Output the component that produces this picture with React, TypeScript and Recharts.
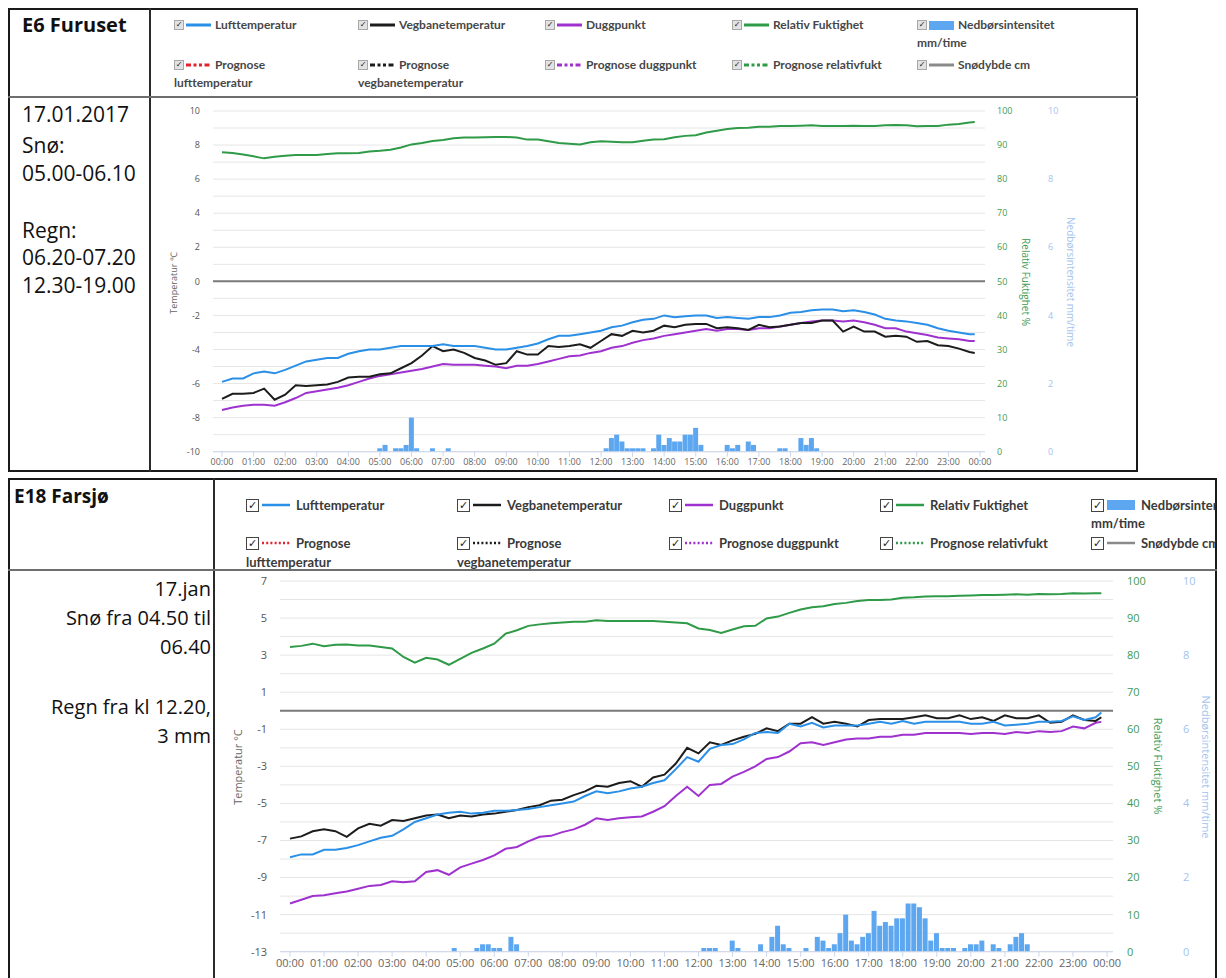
import React from "react";
import {
  ComposedChart,
  Line,
  Bar,
  XAxis,
  YAxis,
  CartesianGrid,
  ReferenceLine,
} from "recharts";

const AIR = "#2a8fe6";
const ROAD = "#1c1c1c";
const DEW = "#9f32cf";
const RH = "#2f9a47";
const RAIN = "#5da6f0";
const SNOW = "#8a8a8a";
const FC_AIR = "#e3202d";

// tidspunkt for linjeseriene: hvert 20. minutt 00:00-23:40, siste måling 23:50
const LINE_MIN = [...Array.from({ length: 72 }, (_, i) => i * 20), 1430];
const HOUR_TICKS = Array.from({ length: 25 }, (_, i) => i * 60);

// E6 Furuset
const E6_AIR = [
  -5.9, -5.7, -5.7, -5.4, -5.3, -5.4,
  -5.2, -4.95, -4.7, -4.6, -4.5, -4.5,
  -4.25, -4.1, -4.0, -4.0, -3.9, -3.8,
  -3.8, -3.8, -3.8, -3.7, -3.8, -3.8,
  -3.8, -3.9, -4.0, -4.0, -3.9, -3.8,
  -3.65, -3.4, -3.2, -3.2, -3.1, -3.0,
  -2.9, -2.7, -2.6, -2.4, -2.25, -2.2,
  -2.0, -2.1, -2.05, -2.0, -2.0, -2.15,
  -2.1, -2.15, -2.2, -2.1, -2.1, -2.0,
  -1.85, -1.8, -1.7, -1.65, -1.65, -1.75,
  -1.7, -1.8, -1.95, -2.2, -2.3, -2.35,
  -2.45, -2.55, -2.75, -2.9, -3.0, -3.1,
  -3.1,
];
const E6_ROAD = [
  -6.9, -6.6, -6.6, -6.55, -6.3, -6.95,
  -6.65, -6.1, -6.15, -6.1, -6.05, -5.9,
  -5.65, -5.6, -5.6, -5.45, -5.4, -5.1,
  -4.8, -4.35, -3.8, -4.1, -4.0, -4.2,
  -4.5, -4.65, -4.9, -4.8, -4.1, -4.3,
  -4.3, -3.8, -3.85, -3.8, -3.7, -3.9,
  -3.5, -3.1, -3.2, -2.9, -3.0, -2.9,
  -2.6, -2.7, -2.55, -2.5, -2.5, -2.75,
  -2.7, -2.75, -2.85, -2.55, -2.7, -2.65,
  -2.55, -2.45, -2.45, -2.3, -2.3, -2.95,
  -2.65, -2.95, -2.95, -3.25, -3.2, -3.25,
  -3.55, -3.5, -3.75, -3.8, -3.95, -4.15,
  -4.2,
];
const E6_DEW = [
  -7.55, -7.4, -7.3, -7.25, -7.25, -7.3,
  -7.1, -6.85, -6.55, -6.45, -6.35, -6.25,
  -6.1, -5.9, -5.7, -5.55, -5.45, -5.35,
  -5.25, -5.15, -5.0, -4.85, -4.9, -4.9,
  -4.9, -4.95, -5.0, -5.1, -4.95, -4.95,
  -4.85, -4.7, -4.55, -4.4, -4.35, -4.2,
  -4.1, -3.9, -3.8, -3.6, -3.45, -3.35,
  -3.2, -3.1, -3.0, -2.9, -2.8, -2.9,
  -2.8, -2.8, -2.85, -2.75, -2.75, -2.65,
  -2.55, -2.45, -2.35, -2.3, -2.3, -2.35,
  -2.3, -2.4, -2.55, -2.75, -2.75, -2.95,
  -3.05, -3.15, -3.3, -3.35, -3.4, -3.5,
  -3.5,
];
const E6_RH = [
  87.9, 87.7, 87.2, 86.7, 86.1, 86.6,
  86.9, 87.1, 87.1, 87.1, 87.4, 87.6,
  87.6, 87.7, 88.1, 88.3, 88.6, 89.3,
  90.2, 90.6, 91.2, 91.5, 92.0, 92.2,
  92.2, 92.3, 92.4, 92.4, 92.2, 91.6,
  91.6, 91.1, 90.6, 90.4, 90.2, 90.8,
  91.1, 91.0, 90.8, 90.8, 91.3, 91.6,
  91.7, 92.3, 92.7, 92.9, 93.7, 94.2,
  94.7, 95.0, 95.1, 95.4, 95.4, 95.6,
  95.6, 95.7, 95.8, 95.6, 95.6, 95.6,
  95.7, 95.6, 95.6, 95.8, 95.9, 95.8,
  95.5, 95.6, 95.6, 96.0, 96.2, 96.6,
  96.8,
];
const E6_RAIN: [string, number][] = [
  ["05:00", 0.1], ["05:10", 0.2], ["05:30", 0.1], ["05:40", 0.1], ["05:50", 0.2],
  ["06:00", 1.0], ["06:10", 0.1], ["06:40", 0.1], ["07:10", 0.1],
  ["12:10", 0.1], ["12:20", 0.4], ["12:30", 0.5], ["12:40", 0.3], ["12:50", 0.1],
  ["13:00", 0.1], ["13:10", 0.1], ["13:20", 0.1], ["13:40", 0.1], ["13:50", 0.5],
  ["14:00", 0.2], ["14:10", 0.4], ["14:20", 0.3], ["14:30", 0.3], ["14:40", 0.5],
  ["14:50", 0.5], ["15:00", 0.7], ["15:10", 0.2], ["16:00", 0.2], ["16:10", 0.1],
  ["16:20", 0.2], ["16:40", 0.3], ["16:50", 0.2], ["17:40", 0.1], ["17:50", 0.1],
  ["18:20", 0.4], ["18:30", 0.2], ["18:40", 0.4], ["18:50", 0.1],
];

// E18 Farsjø
const E18_AIR = [
  -7.9, -7.75, -7.75, -7.5, -7.5, -7.4,
  -7.25, -7.05, -6.85, -6.75, -6.4, -6.0,
  -5.8, -5.6, -5.5, -5.45, -5.55, -5.5,
  -5.4, -5.4, -5.35, -5.3, -5.2, -5.1,
  -5.0, -4.9, -4.6, -4.35, -4.45, -4.35,
  -4.2, -4.1, -3.9, -3.75, -3.15, -2.5,
  -2.75, -2.05, -1.85, -1.8, -1.55, -1.2,
  -1.15, -1.2, -0.7, -0.85, -0.65, -0.9,
  -0.8, -0.8, -0.8, -0.7, -0.6, -0.7,
  -0.55, -0.7, -0.6, -0.6, -0.6, -0.6,
  -0.7, -0.7, -0.6, -0.8, -0.75, -0.7,
  -0.6, -0.6, -0.55, -0.3, -0.5, -0.35,
  -0.1,
];
const E18_ROAD = [
  -6.9, -6.78, -6.5, -6.4, -6.5, -6.8,
  -6.35, -6.1, -6.2, -5.9, -5.95, -5.8,
  -5.65, -5.6, -5.8, -5.65, -5.7, -5.6,
  -5.55, -5.45, -5.35, -5.2, -5.1, -4.85,
  -4.8, -4.55, -4.35, -4.05, -4.1, -3.9,
  -3.8, -4.1, -3.6, -3.45, -2.85, -2.0,
  -2.3, -1.7, -1.85, -1.6, -1.4, -1.25,
  -0.95, -1.1, -0.7, -0.7, -0.35, -0.7,
  -0.6, -0.7, -0.85, -0.5, -0.45, -0.45,
  -0.45, -0.35, -0.25, -0.4, -0.4, -0.25,
  -0.45, -0.35, -0.55, -0.25, -0.4, -0.4,
  -0.25, -0.65, -0.6, -0.25, -0.5, -0.55,
  -0.35,
];
const E18_DEW = [
  -10.4, -10.2, -10.0, -9.95, -9.85, -9.75,
  -9.6, -9.45, -9.4, -9.2, -9.25, -9.2,
  -8.7, -8.6, -8.85, -8.45, -8.25, -8.05,
  -7.8, -7.45, -7.35, -7.05, -6.8, -6.75,
  -6.55, -6.4, -6.15, -5.8, -5.9, -5.8,
  -5.75, -5.7, -5.45, -5.15, -4.6, -4.1,
  -4.6, -4.0, -3.95, -3.55, -3.3, -3.0,
  -2.6, -2.5, -2.2, -1.75, -1.7, -1.85,
  -1.7, -1.55, -1.5, -1.5, -1.4, -1.4,
  -1.3, -1.3, -1.2, -1.2, -1.2, -1.2,
  -1.25, -1.2, -1.2, -1.25, -1.15, -1.2,
  -1.1, -1.15, -1.1, -0.85, -0.95, -0.65,
  -0.6,
];
const E18_RH = [
  82.2, 82.5, 83.1, 82.4, 82.8, 82.9,
  82.6, 82.6, 82.2, 81.8, 79.5, 78.0,
  79.3, 78.8, 77.4, 79.0, 80.6, 81.8,
  83.1, 85.8, 86.7, 87.9, 88.3, 88.6,
  88.8, 89.0, 89.0, 89.4, 89.2, 89.2,
  89.2, 89.2, 89.2, 89.0, 88.8, 88.6,
  87.2, 86.8, 86.0, 86.9, 87.8, 87.9,
  89.9, 90.4, 91.4, 92.3, 92.9, 93.2,
  93.8, 94.1, 94.6, 94.9, 94.9, 95.0,
  95.5, 95.6, 95.8, 95.9, 95.9, 96.0,
  96.1, 96.2, 96.2, 96.3, 96.4, 96.3,
  96.5, 96.4, 96.5, 96.7, 96.6, 96.7,
  96.7,
];
const E18_RAIN: [string, number][] = [
  ["04:50", 0.1], ["05:30", 0.1], ["05:40", 0.2], ["05:50", 0.2], ["06:00", 0.1],
  ["06:10", 0.1], ["06:30", 0.4], ["06:40", 0.2],
  ["12:10", 0.1], ["12:20", 0.1], ["12:30", 0.1], ["13:00", 0.3], ["13:10", 0.1],
  ["13:50", 0.2], ["14:10", 0.4], ["14:20", 0.7], ["14:30", 0.2], ["14:40", 0.1],
  ["15:10", 0.1], ["15:30", 0.4], ["15:40", 0.3], ["15:50", 0.1], ["16:00", 0.2],
  ["16:10", 0.5], ["16:20", 1.0], ["16:30", 0.3], ["16:40", 0.2], ["16:50", 0.4],
  ["17:00", 0.5], ["17:10", 1.1], ["17:20", 0.7], ["17:30", 0.8], ["17:40", 0.7],
  ["17:50", 0.9], ["18:00", 0.9], ["18:10", 1.3], ["18:20", 1.3], ["18:30", 1.2],
  ["18:40", 0.9], ["18:50", 0.3], ["19:00", 0.5], ["19:10", 0.1], ["19:20", 0.1],
  ["19:30", 0.1], ["19:50", 0.1], ["20:00", 0.2], ["20:10", 0.2], ["20:20", 0.3],
  ["20:40", 0.2], ["20:50", 0.1], ["21:10", 0.2], ["21:20", 0.4], ["21:30", 0.5],
  ["21:40", 0.2],
];

const E6_TEMP_TICKS = Array.from({ length: 21 }, (_, i) => i - 10);
const E18_TEMP_TICKS = Array.from({ length: 21 }, (_, i) => i - 13);
const RH_TICKS = [0, 10, 20, 30, 40, 50, 60, 70, 80, 90, 100];
const RAIN_TICKS = [0, 2, 4, 6, 8, 10];

const LEGEND_ROW1 = [
  { label: "Lufttemperatur", color: AIR, kind: "line" },
  { label: "Vegbanetemperatur", color: ROAD, kind: "line" },
  { label: "Duggpunkt", color: DEW, kind: "line" },
  { label: "Relativ Fuktighet", color: RH, kind: "line" },
  { label: "Nedbørsintensitet", more: "mm/time", color: RAIN, kind: "bar" },
];
const LEGEND_ROW2 = [
  { label: "Prognose", more: "lufttemperatur", color: FC_AIR, kind: "dash" },
  { label: "Prognose", more: "vegbanetemperatur", color: ROAD, kind: "dash" },
  { label: "Prognose duggpunkt", color: DEW, kind: "dash" },
  { label: "Prognose relativfukt", color: RH, kind: "dash" },
  { label: "Snødybde cm", color: SNOW, kind: "line" },
];

function buildRows(air: number[], road: number[], dew: number[], rh: number[], rain: [string, number][]) {
  const rows: any[] = [];
  for (let t = 0; t <= 1440; t += 10) rows.push({ t });
  LINE_MIN.forEach((t, i) => {
    Object.assign(rows[t / 10], { air: air[i], road: road[i], dew: dew[i], rh: rh[i] });
  });
  rain.forEach(([hm, v]) => {
    const [h, m] = hm.split(":").map(Number);
    rows[(h * 60 + m) / 10].rain = v;
  });
  return rows;
}

const E6_ROWS = buildRows(E6_AIR, E6_ROAD, E6_DEW, E6_RH, E6_RAIN);
const E18_ROWS = buildRows(E18_AIR, E18_ROAD, E18_DEW, E18_RH, E18_RAIN);

const hourLabel = (m: number) => `${String(Math.floor(m / 60) % 24).padStart(2, "0")}:00`;

function VText({ x, y, text, color, size, angle }: any) {
  return (
    <div
      style={{
        position: "absolute",
        left: x,
        top: y,
        transform: `translate(-50%, -50%) rotate(${angle}deg)`,
        whiteSpace: "nowrap",
        color,
        fontSize: size,
        fontFamily: "Open Sans",
        lineHeight: 1,
      }}
    >
      {text}
    </div>
  );
}

function WeatherChart(p: any) {
  const font = { fontFamily: "Open Sans", fontSize: p.fs };
  return (
    <div style={{ position: "absolute", left: p.left, top: p.top }}>
      <ComposedChart width={p.width} height={p.height} data={p.rows} margin={p.margin}>
        <CartesianGrid yAxisId="a_temp" vertical={false} stroke="#e6e6e6" />
        <XAxis
          dataKey="t"
          type="number"
          domain={[0, 1440]}
          ticks={HOUR_TICKS}
          interval={0}
          tickFormatter={hourLabel}
          padding={{ left: p.padL, right: p.padR }}
          height={p.xh}
          tickSize={5}
          tickMargin={2}
          stroke="#ccd6eb"
          tick={{ ...font, fill: "#666" }}
        />
        <YAxis
          yAxisId="a_temp"
          domain={p.tempDomain}
          ticks={p.tempTicks}
          interval={0}
          tickFormatter={(v: number) => ((v - p.tempDomain[0]) % 2 === 0 ? String(v) : "")}
          width={p.yw}
          axisLine={false}
          tickLine={false}
          tickSize={0}
          tickMargin={13}
          tick={{ ...font, fill: "#555" }}
        />
        <YAxis
          yAxisId="b_rh"
          orientation="right"
          domain={[0, 100]}
          ticks={RH_TICKS}
          interval={0}
          width={p.rhw}
          axisLine={false}
          tickLine={false}
          tickSize={0}
          tickMargin={p.rhm}
          tick={{ ...font, fill: "#3f9a52" }}
        />
        <YAxis
          yAxisId="c_rain"
          orientation="right"
          domain={[0, 10]}
          ticks={RAIN_TICKS}
          interval={0}
          width={p.rw}
          axisLine={false}
          tickLine={false}
          tickSize={0}
          tickMargin={12}
          tick={{ ...font, fill: "#a3c4ee" }}
        />
        <Bar yAxisId="c_rain" dataKey="rain" fill={RAIN} barSize={5} isAnimationActive={false} />
        <ReferenceLine yAxisId="a_temp" y={0} stroke="#7a7a7a" strokeWidth={2} />
        <Line yAxisId="b_rh" dataKey="rh" stroke={RH} strokeWidth={2} dot={false} connectNulls isAnimationActive={false} />
        <Line yAxisId="a_temp" dataKey="dew" stroke={DEW} strokeWidth={2} dot={false} connectNulls isAnimationActive={false} />
        <Line yAxisId="a_temp" dataKey="road" stroke={ROAD} strokeWidth={2} dot={false} connectNulls isAnimationActive={false} />
        <Line yAxisId="a_temp" dataKey="air" stroke={AIR} strokeWidth={2} dot={false} connectNulls isAnimationActive={false} />
      </ComposedChart>
    </div>
  );
}

function CheckBox({ x, y, big }: any) {
  const s = big ? 13 : 10;
  return (
    <div
      style={{
        position: "absolute",
        left: x,
        top: y - s / 2,
        width: s,
        height: s,
        boxSizing: "border-box",
        border: big ? "1px solid #444" : "1px solid #a8a8a8",
        background: big ? "#fff" : "#e2e2e2",
        fontFamily: "DejaVu Sans",
        fontSize: big ? 11 : 8,
        lineHeight: `${s - 2}px`,
        textAlign: "center",
        color: "#222",
      }}
    >
      ✓
    </div>
  );
}

function Swatch({ x, y, w, color, kind, big }: any) {
  if (kind === "bar") {
    const h = big ? 10 : 9;
    return <div style={{ position: "absolute", left: x, top: y - h / 2, width: w, height: h, background: color }} />;
  }
  const dash = kind === "dash" ? (big ? "2 2.2" : "5 2.5 3 2.5 3 2.5 5") : undefined;
  return (
    <svg style={{ position: "absolute", left: x, top: y - 3 }} width={w} height={6}>
      <line x1={0} y1={3} x2={w} y2={3} stroke={color} strokeWidth={big ? 2.5 : 3} strokeDasharray={dash} />
    </svg>
  );
}

function LegendRow({ items, cols, y, y2, big, textOff, swOff, swW, fs, color }: any) {
  const txt = (x: number, yy: number, s: string, key: string) => (
    <div
      key={key}
      style={{
        position: "absolute",
        left: x,
        top: yy - 9,
        lineHeight: "18px",
        fontFamily: "Lato",
        fontWeight: 700,
        fontSize: fs,
        color,
        whiteSpace: "nowrap",
      }}
    >
      {s}
    </div>
  );
  return (
    <>
      {items.map((it: any, i: number) => (
        <React.Fragment key={i}>
          <CheckBox x={cols[i]} y={y} big={big} />
          <Swatch x={cols[i] + swOff} y={y} w={swW} color={it.color} kind={it.kind} big={big} />
          {txt(cols[i] + textOff, y, it.label, "a")}
          {it.more ? txt(cols[i], y2, it.more, "b") : null}
        </React.Fragment>
      ))}
    </>
  );
}

function Rule({ x, y, w, h, c }: any) {
  return <div style={{ position: "absolute", left: x, top: y, width: w, height: h, background: c }} />;
}

export default function App() {
  const topNotes: [string, number][] = [
    ["17.01.2017", 114],
    ["Snø:", 145],
    ["05.00-06.10", 173],
    ["Regn:", 230],
    ["06.20-07.20", 257],
    ["12.30-19.00", 285],
  ];
  const botNotes: [string, number][] = [
    ["17.jan", 589],
    ["Snø fra 04.50 til", 618],
    ["06.40", 647],
    ["Regn fra kl 12.20,", 707],
    ["3 mm", 736],
  ];
  return (
    <div
      style={{
        position: "fixed",
        left: 0,
        top: 0,
        width: 1226,
        height: 978,
        overflow: "hidden",
        background: "#fff",
        fontFamily: "Open Sans",
      }}
    >
      {/* E6 Furuset */}
      <div style={{ position: "absolute", left: 8, top: 8, width: 1130, height: 464, boxSizing: "border-box", border: "2px solid #1a1a1a" }} />
      <Rule x={149} y={8} w={2} h={464} c="#2a2a2a" />
      <Rule x={8} y={96} w={1130} h={2} c="#6e6e6e" />
      <div style={{ position: "absolute", left: 22, top: 10, fontSize: 20, fontWeight: 700, lineHeight: "30px", color: "#111" }}>
        E6 Furuset
      </div>
      {topNotes.map(([s, y]) => (
        <div key={s} style={{ position: "absolute", left: 22, top: y - 14, fontSize: 21, lineHeight: "28px", color: "#111" }}>
          {s}
        </div>
      ))}
      <LegendRow items={LEGEND_ROW1} cols={[174, 358, 545, 732, 917]} y={25} y2={43} big={false} textOff={41} swOff={12} swW={25} fs={12} color="#474747" />
      <LegendRow items={LEGEND_ROW2} cols={[174, 358, 545, 732, 917]} y={65} y2={83} big={false} textOff={41} swOff={12} swW={25} fs={12} color="#474747" />
      <WeatherChart
        rows={E6_ROWS}
        left={150}
        top={97}
        width={988}
        height={375}
        margin={{ top: 14, right: 0, bottom: 4.3, left: 0 }}
        xh={16}
        padL={9}
        padR={5}
        fs={9}
        tempDomain={[-10, 10]}
        tempTicks={E6_TEMP_TICKS}
        yw={63}
        rhw={51}
        rhm={12}
        rw={102}
      />
      <VText x={173} y={283} text="Temperatur ℃" color="#666" size={9} angle={-90} />
      <VText x={1026} y={282} text="Relativ Fuktighet %" color="#3f9a52" size={10} angle={90} />
      <VText x={1071} y={282} text="Nedbørsintensitet mm/time" color="#a3c4ee" size={10} angle={90} />

      {/* E18 Farsjø */}
      <div style={{ position: "absolute", left: 8, top: 478, width: 1209, height: 520, boxSizing: "border-box", border: "2px solid #1a1a1a" }} />
      <Rule x={213} y={478} w={2} h={520} c="#2a2a2a" />
      <Rule x={8} y={569} w={1209} h={2} c="#6e6e6e" />
      <div style={{ position: "absolute", left: 14, top: 481, fontSize: 19, fontWeight: 700, lineHeight: "30px", color: "#111" }}>
        E18 Farsjø
      </div>
      {botNotes.map(([s, y]) => (
        <div key={s} style={{ position: "absolute", right: 1226 - 211, top: y - 15, fontSize: 20, lineHeight: "30px", color: "#111", whiteSpace: "nowrap", textAlign: "right" }}>
          {s}
        </div>
      ))}
      <div style={{ position: "absolute", left: 0, top: 0, width: 1216, height: 978, overflow: "hidden" }}>
        <LegendRow items={LEGEND_ROW1} cols={[246, 457, 669, 880, 1091]} y={505} y2={523} big textOff={50} swOff={16} swW={28} fs={13} color="#3a3a3a" />
        <LegendRow items={LEGEND_ROW2} cols={[246, 457, 669, 880, 1091]} y={543} y2={562} big textOff={50} swOff={16} swW={28} fs={13} color="#3a3a3a" />
      </div>
      <WeatherChart
        rows={E18_ROWS}
        left={214}
        top={570}
        width={1003}
        height={408}
        margin={{ top: 11, right: 0, bottom: 6.3, left: 0 }}
        xh={20}
        padL={10}
        padR={6}
        fs={11}
        tempDomain={[-13, 7]}
        tempTicks={E18_TEMP_TICKS}
        yw={66}
        rhw={58}
        rhm={14}
        rw={46}
      />
      <VText x={237} y={767} text="Temperatur °C" color="#666" size={11} angle={-90} />
      <VText x={1158} y={766} text="Relativ Fuktighet %" color="#3f9a52" size={11} angle={90} />
      <VText x={1206} y={767} text="Nedbørsintensitet mm/time" color="#a3c4ee" size={11} angle={90} />
    </div>
  );
}
